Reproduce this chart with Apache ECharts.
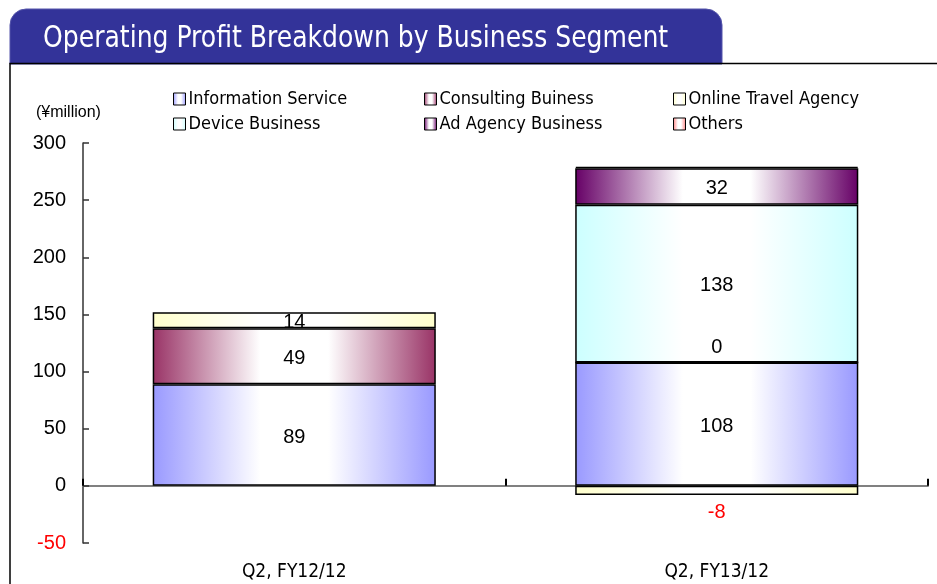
<!DOCTYPE html>
<html>
<head>
<meta charset="utf-8">
<style>html,body{margin:0;padding:0;background:#fff}#c{width:937px;height:584px}</style>
<script src="https://cdn.jsdelivr.net/npm/echarts@6/dist/echarts.min.js"></script>
</head>
<body>
<div id="c"></div>
<script>
const categories = ['Q2, FY12/12', 'Q2, FY13/12'];
const infoService = [89, 108];
const consulting = [49, 0];
const onlineTravel = [14, -8];
const device = [null, 138];
const adAgency = [null, 32];
const others = [null, 1];
const yTicks = { min: -50, max: 300, interval: 50 };

const NARROW = "'Liberation Sans Narrow','DejaVu Sans Condensed',sans-serif";
const SANS = "'Liberation Sans',Arial,sans-serif";

function grad(c) {
  return new echarts.graphic.LinearGradient(0, 0, 1, 0, [
    { offset: 0, color: c },
    { offset: 0.38, color: '#ffffff' },
    { offset: 0.62, color: '#ffffff' },
    { offset: 1, color: c }
  ]);
}

const labelBase = { show: true, position: 'inside', offset: [0, 2], color: '#000', fontSize: 20, fontFamily: SANS,
  formatter: p => (p.value === null || p.value === undefined) ? '' : String(p.value) };

function mk(name, data, color, extra) {
  return Object.assign({
    name: name, type: 'bar', stack: 'total', data: data, barWidth: '67%',
    itemStyle: { color: grad(color), borderColor: '#000', borderWidth: 1.5 },
    label: labelBase,
    emphasis: { disabled: true }
  }, extra || {});
}

const series = [
  mk('Information Service', infoService, '#9999ff'),
  mk('Consulting Buiness', consulting.map(v => v === 0 ? { value: v, label: { position: 'top', distance: 4, offset: [0, 0] } } : v), '#993366'),
  mk('Online Travel Agency', onlineTravel.map(v => v < 0 ? { value: v, label: { position: 'bottom', distance: 7, offset: [0, 0], color: '#ff0000' } } : v), '#ffffcc'),
  mk('Device Business', device, '#ccffff'),
  mk('Ad Agency Business', adAgency, '#660066'),
  mk('Others', others, '#ff8080', { label: { show: false } })
];

const legendCommon = {
  orient: 'vertical', itemWidth: 12, itemHeight: 12, itemGap: 7,
  icon: 'rect', selectedMode: false,
  textStyle: { fontSize: 18, fontFamily: NARROW, color: '#000', padding: [0, 0, 0, -2] },
  itemStyle: { borderColor: '#000', borderWidth: 1 }
};

const chart = echarts.init(document.getElementById('c'));
chart.setOption({
  animation: false,
  backgroundColor: '#fff',
  graphic: [
    { type: 'rect', shape: { x: 10, y: 9, width: 712, height: 55, r: [16, 16, 0, 0] }, style: { fill: '#333399', stroke: '#5555aa', lineWidth: 1 }, z: 0 },
    { type: 'text', x: 43, y: 24, scaleX: 0.93, style: { text: 'Operating Profit Breakdown by Business Segment', fill: '#fff', font: '30px ' + NARROW }, z: 2 },
    { type: 'polyline', shape: { points: [[10, 584], [10, 63.5], [937, 63.5]] }, style: { stroke: '#000', lineWidth: 1.5, fill: null }, z: 3 },
    { type: 'text', x: 36, y: 105, style: { text: '(¥million)', fill: '#000', font: '16px ' + SANS }, z: 2 }
  ],
  legend: [
    Object.assign({}, legendCommon, { left: 168, top: 85, data: ['Information Service', 'Device Business'] }),
    Object.assign({}, legendCommon, { left: 419, top: 85, data: ['Consulting Buiness', 'Ad Agency Business'] }),
    Object.assign({}, legendCommon, { left: 668, top: 85, data: ['Online Travel Agency', 'Others'] })
  ],
  grid: { left: 83, right: 9, top: 143, bottom: 41, containLabel: false },
  xAxis: [
    { type: 'category', data: categories, axisLine: { onZero: true, lineStyle: { color: '#808080', width: 2 } },
      axisTick: { show: true, inside: true, length: 7, lineStyle: { color: '#000', width: 2 } },
      axisLabel: { show: false } },
    { type: 'category', data: categories, position: 'bottom', axisLine: { show: false, onZero: false }, axisTick: { show: false },
      axisLabel: { show: true, margin: 20, color: '#000', fontSize: 19, fontFamily: NARROW } }
  ],
  yAxis: {
    type: 'value', min: yTicks.min, max: yTicks.max, interval: yTicks.interval,
    axisLine: { show: true, lineStyle: { color: '#333', width: 1.5 } },
    axisTick: { show: true, inside: true, length: 6, lineStyle: { color: '#333', width: 1.5 } },
    splitLine: { show: false },
    axisLabel: { margin: 17, fontSize: 20, fontFamily: SANS, color: v => Number(v) < 0 ? '#ff0000' : '#000' }
  },
  series: series
});
</script>
</body>
</html>
